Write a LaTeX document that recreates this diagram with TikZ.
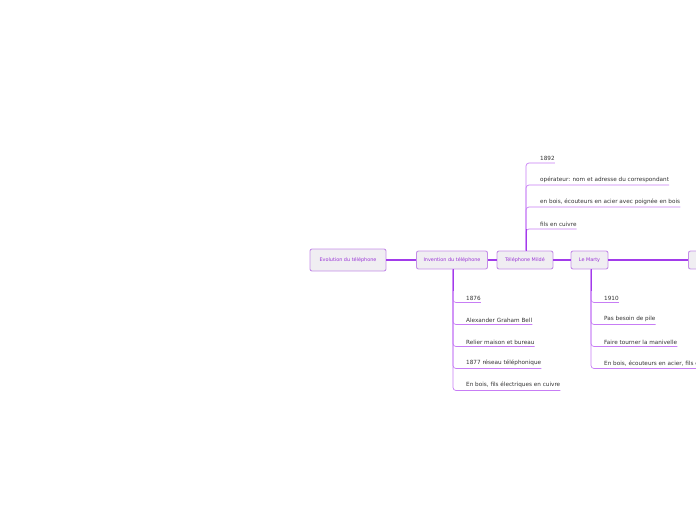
\documentclass[tikz,border=0pt]{standalone}
\usepackage{fontspec}
\setmainfont{DejaVu Sans}
\usepackage{xcolor}
\usepackage{tikz}
\usetikzlibrary{arrows.meta,positioning}
\definecolor{mapviolet}{HTML}{A23BEA}
\definecolor{mapedge}{HTML}{C58EE8}
\definecolor{maptwig}{HTML}{C77DF5}
\definecolor{mapfill}{HTML}{F0EEF2}
\definecolor{maptext}{HTML}{9A35D6}
\tikzset{
    topic/.style={rectangle, rounded corners=2pt, draw=mapedge, line width=0.9pt,
        fill=mapfill, minimum height=18, inner sep=2pt,
        font=\fontsize{4.9}{6}\selectfont, text=maptext},
    leaf/.style={anchor=south west, inner xsep=0pt, inner ysep=2.2pt,
        font=\fontsize{5.7}{6}\selectfont, text=black!80},
    link/.style={draw=mapviolet, line width=1.2pt},
    twig/.style={draw=maptwig, line width=0.7pt, rounded corners=3pt}
}

\begin{document}
\begin{tikzpicture}[x=1pt,y=1pt]
        \useasboundingbox (0,0) rectangle (696,-520);
        \clip (0,0) rectangle (696,-520);
        % main branch
        \node[topic,minimum width=76,minimum height=22] at (348,-260) (root) {Evolution du téléphone};
        \node[topic,minimum width=71] at (452,-260) (invention) {Invention du téléphone};
        \node[topic,minimum width=56] at (525,-260) (milde) {Téléphone Mildé};
        \node[topic,minimum width=37] at (589.5,-260) (marty) {Le Marty};
        \node[topic,minimum width=40,anchor=west] at (688,-260) (next) {};
        \draw[link] (root) -- (invention);
        \draw[link] (invention) -- (milde);
        \draw[link] (milde) -- (marty);
        \draw[link] (marty) -- (next);
        % Invention du telephone
        \node[leaf] at (466,-302.5) (inv1) {1876\hspace{4pt}};
        \node[leaf] at (466,-324.5) (inv2) {Alexander Graham Bell\hspace{4pt}};
        \node[leaf] at (466,-346.5) (inv3) {Relier maison et bureau\hspace{4pt}};
        \node[leaf] at (466,-368.5) (inv4) {1877 réseau téléphonique\hspace{4pt}};
        \node[leaf] at (466,-390.5) (inv5) {En bois, fils électriques en cuivre\hspace{4pt}};
        \foreach \k in {1,...,5}
            \draw[twig] ([xshift=1pt]invention.south) |- (inv\k.south east);
        \draw[link,line width=1pt] ([xshift=1pt]invention.south) -- ++(0,-22);
        % Telephone Milde
        \node[leaf] at (540,-163) (mil1) {1892\hspace{4pt}};
        \node[leaf] at (540,-185) (mil2) {opérateur: nom et adresse du correspondant\hspace{4pt}};
        \node[leaf] at (540,-207) (mil3) {en bois, écouteurs en acier avec poignée en bois\hspace{4pt}};
        \node[leaf] at (540,-229) (mil4) {fils en cuivre\hspace{4pt}};
        \foreach \k in {1,...,4}
            \draw[twig] ([xshift=1pt]milde.north) |- (mil\k.south east);
        \draw[link,line width=1pt] ([xshift=1pt]milde.north) -- ++(0,22);
        % Le Marty
        \node[leaf] at (604,-302.5) (mar1) {1910\hspace{4pt}};
        \node[leaf] at (604,-324.5) (mar2) {Pas besoin de pile\hspace{4pt}};
        \node[leaf] at (604,-346.5) (mar3) {Faire tourner la manivelle\hspace{4pt}};
        \node[leaf] at (604,-368.5) (mar4) {En bois, écouteurs en acier, fils en cuivre\hspace{4pt}};
        \foreach \k in {1,...,4}
            \draw[twig] ([xshift=1.5pt]marty.south) |- (mar\k.south east);
        \draw[link,line width=1pt] ([xshift=1.5pt]marty.south) -- ++(0,-22);
    \end{tikzpicture}
\end{document}
